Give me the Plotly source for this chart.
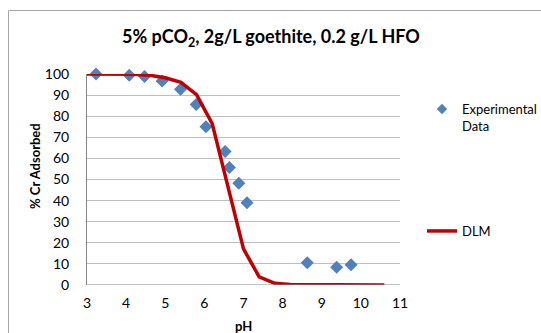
import plotly.graph_objects as go

# Experimental data
exp_ph = [3.23, 4.08, 4.47, 4.92, 5.39, 5.79, 6.04, 6.53, 6.64, 6.88, 7.09, 8.63, 9.38, 9.75]
exp_cr = [100, 99.4, 98.8, 96.7, 92.8, 85.6, 75.0, 63.3, 55.7, 48.2, 39.0, 10.6, 8.4, 9.6]

# DLM model curve
dlm_ph = [3.0, 3.4, 3.8, 4.2, 4.6, 5.0, 5.4, 5.8, 6.2, 6.6, 7.0, 7.4, 7.8, 8.2, 8.6, 9.0, 9.4, 9.8, 10.2, 10.6]
dlm_cr = [100, 100, 100, 99.9, 99.4, 98.2, 96.0, 90.2, 76.5, 47.0, 17.1, 3.9, 0.8, 0.2, 0.1, 0.05, 0.0, 0.0, 0.0, 0.0]

x_ticks = [3, 4, 5, 6, 7, 8, 9, 10, 11]
y_ticks = [0, 10, 20, 30, 40, 50, 60, 70, 80, 90, 100]

FONT = "Lato, 'Open Sans', sans-serif"
BLUE = "#4F81BD"
RED = "#C00000"

fig = go.Figure()
fig.add_trace(go.Scatter(
    x=exp_ph, y=exp_cr, mode="markers", name="Experimental<br>Data",
    marker=dict(symbol="diamond", size=10, color=BLUE),
    showlegend=False, cliponaxis=False,
))
# legend-only entry with a smaller marker, as in the reference legend
fig.add_trace(go.Scatter(
    x=[None], y=[None], mode="markers", name="Experimental<br>Data",
    marker=dict(symbol="diamond", size=8, color=BLUE),
    legend="legend",
))
fig.add_trace(go.Scatter(
    x=dlm_ph, y=dlm_cr, mode="lines", name="DLM",
    line=dict(color=RED, width=3.5),
    legend="legend2", cliponaxis=False,
))

W, H = 541, 333
L, R, T, B = 87, 141, 74, 48
pw, ph_ = W - L - R, H - T - B

def px2paper_x(px):
    return (px - L) / pw

def px2paper_y(py):
    return (H - B - py) / ph_

fig.update_layout(
    width=W, height=H,
    margin=dict(l=L, r=R, t=T, b=B, autoexpand=False),
    paper_bgcolor="white", plot_bgcolor="white",
    font=dict(family=FONT, size=14, color="#000000"),
    showlegend=True,
    xaxis=dict(
        range=[3, 11], tickvals=x_ticks, ticktext=[str(v) for v in x_ticks],
        showgrid=False, zeroline=False, showline=False, ticks="",
        tickfont=dict(size=14), ticklabelstandoff=8,
    ),
    yaxis=dict(
        range=[0, 100], tickvals=y_ticks, ticktext=[str(v) for v in y_ticks],
        showgrid=True, gridcolor="#BFBFBF", gridwidth=1,
        zeroline=False, showline=True, linecolor="#868686", linewidth=1,
        ticks="", tickfont=dict(size=14), ticklabelstandoff=14,
    ),
    legend=dict(
        x=px2paper_x(422), y=px2paper_y(94), xanchor="left", yanchor="top",
        bgcolor="rgba(0,0,0,0)", font=dict(size=13), valign="top",
    ),
    legend2=dict(
        x=px2paper_x(422), y=px2paper_y(216), xanchor="left", yanchor="top",
        bgcolor="rgba(0,0,0,0)", font=dict(size=13),
    ),
    shapes=[
        # bottom axis line at y=0
        dict(type="line", xref="x", yref="y", x0=3, x1=11, y0=0, y1=0,
             line=dict(color="#868686", width=1), layer="above"),
        # chart frame
        dict(type="rect", xref="paper", yref="paper",
             x0=px2paper_x(8.5), x1=px2paper_x(560),
             y0=px2paper_y(360), y1=px2paper_y(10.5),
             line=dict(color="#A6A6A6", width=1), layer="below"),
    ],
    annotations=[
        dict(text="<b>5% pCO<sub>2</sub>, 2g/L goethite, 0.2 g/L HFO</b>",
             xref="paper", yref="paper", x=px2paper_x(271), y=px2paper_y(37),
             xanchor="center", yanchor="middle", showarrow=False,
             font=dict(size=18)),
        dict(text="<b>% Cr Adsorbed</b>", textangle=-90,
             xref="paper", yref="paper", x=px2paper_x(35), y=px2paper_y(166),
             xanchor="center", yanchor="middle", showarrow=False,
             font=dict(size=13)),
        dict(text="<b>pH</b>",
             xref="paper", yref="paper", x=px2paper_x(243), y=px2paper_y(326),
             xanchor="center", yanchor="middle", showarrow=False,
             font=dict(size=13)),
    ],
)

fig.write_html("out.html")
